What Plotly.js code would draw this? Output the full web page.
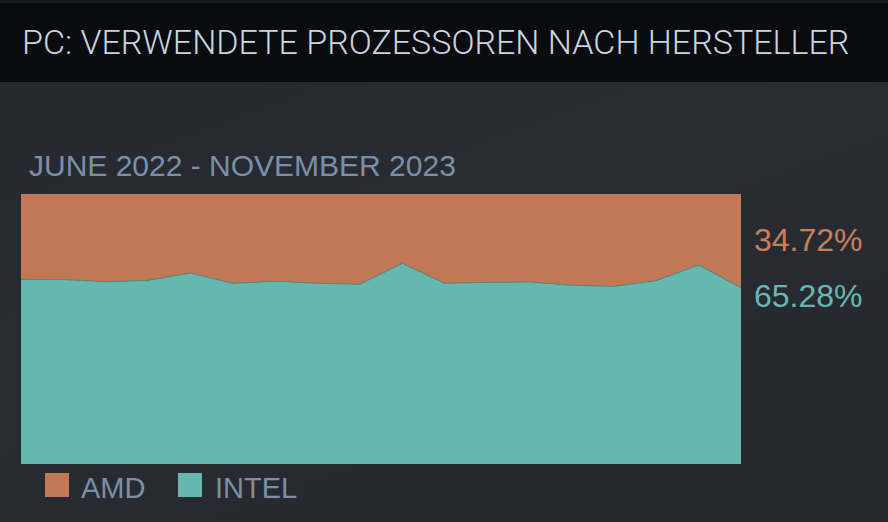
<!DOCTYPE html>
<html>
<head>
<meta charset="utf-8">
<script src="https://cdn.plot.ly/plotly-3.0.1.min.js"></script>
<style>
  html, body { margin: 0; padding: 0; }
  body {
    width: 888px; height: 522px; overflow: hidden;
    background: linear-gradient(160deg, #25272e 0%, #2a2c33 45%, #25272e 100%);
    position: relative;
  }
  #header {
    position: absolute; left: 0; top: 0; width: 888px; height: 82px;
    background: #0a0b0e; border-top: 3px solid #16181c; box-sizing: border-box;
  }
  #chart { position: absolute; left: 0; top: 0; width: 888px; height: 522px; }
</style>
</head>
<body>
<div id="header"></div>
<div id="chart"></div>
<script>
// monthly share, June 2022 .. November 2023
const months = ['2022-06', '2022-07', '2022-08', '2022-09', '2022-10', '2022-11',
  '2022-12', '2023-01', '2023-02', '2023-03', '2023-04', '2023-05',
  '2023-06', '2023-07', '2023-08', '2023-09', '2023-10', '2023-11'];
const intel = [68.4, 68.3, 67.5, 68.0, 70.7, 66.9, 67.7, 66.9, 66.6, 74.3,
  66.9, 67.3, 67.4, 66.2, 65.8, 67.9, 73.7, 65.28];
const amd = intel.map(v => +(100 - v).toFixed(2));

const amdColor = '#c07855';
const intelColor = '#66b7b0';
const labelFont = 'Liberation Sans, Arial, sans-serif';

const traces = [
  {
    x: months, y: intel, name: 'INTEL', stackgroup: 'one', mode: 'lines',
    line: { color: '#5a8a82', width: 1 }, fillcolor: intelColor, hoverinfo: 'skip'
  },
  {
    x: months, y: amd, name: 'AMD', stackgroup: 'one', mode: 'lines',
    line: { color: amdColor, width: 0 }, fillcolor: amdColor, hoverinfo: 'skip'
  }
];

const last = intel.length - 1;

const layout = {
  width: 888, height: 522,
  margin: { l: 21, r: 147, t: 194, b: 58 },
  paper_bgcolor: 'rgba(0,0,0,0)',
  plot_bgcolor: 'rgba(0,0,0,0)',
  showlegend: false,
  title: {
    text: 'PC: VERWENDETE PROZESSOREN NACH HERSTELLER',
    font: { family: 'Roboto, sans-serif', size: 34, color: '#c7d5e0', weight: 300 },
    x: 22 / 888, xanchor: 'left', xref: 'container',
    y: 1 - 42 / 522, yanchor: 'middle', yref: 'container'
  },
  xaxis: {
    type: 'category', range: [0, last], visible: false, fixedrange: true
  },
  yaxis: {
    range: [0, 100], visible: false, fixedrange: true
  },
  shapes: [
    { type: 'rect', xref: 'paper', yref: 'paper', x0: 0.0333, x1: 0.0667, y0: -0.0333, y1: -0.1222,
      fillcolor: amdColor, line: { width: 0 } },
    { type: 'rect', xref: 'paper', yref: 'paper', x0: 0.218, x1: 0.2514, y0: -0.0333, y1: -0.1222,
      fillcolor: intelColor, line: { width: 0 } }
  ],
  annotations: [
    { text: 'JUNE 2022 - NOVEMBER 2023', xref: 'paper', yref: 'paper', x: 0.0083, y: 1.107,
      xanchor: 'left', yanchor: 'middle', showarrow: false,
      font: { family: labelFont, size: 30, color: '#7a90a8' } },
    { text: 'AMD', xref: 'paper', yref: 'paper', x: 0.081, y: -0.0907,
      xanchor: 'left', yanchor: 'middle', showarrow: false,
      font: { family: labelFont, size: 29, color: '#7a90a8' } },
    { text: 'INTEL', xref: 'paper', yref: 'paper', x: 0.266, y: -0.0907,
      xanchor: 'left', yanchor: 'middle', showarrow: false,
      font: { family: labelFont, size: 29, color: '#7a90a8' } },
    { text: amd[last].toFixed(2) + '%', xref: 'paper', yref: 'paper', x: 1.0153, y: 0.83,
      xanchor: 'left', yanchor: 'middle', showarrow: false,
      font: { family: labelFont, size: 32, color: '#c8805a' } },
    { text: intel[last].toFixed(2) + '%', xref: 'paper', yref: 'paper', x: 1.0153, y: 0.622,
      xanchor: 'left', yanchor: 'middle', showarrow: false,
      font: { family: labelFont, size: 32, color: '#66b9b2' } }
  ]
};

Plotly.newPlot('chart', traces, layout, { displayModeBar: false, staticPlot: true });
</script>
</body>
</html>
